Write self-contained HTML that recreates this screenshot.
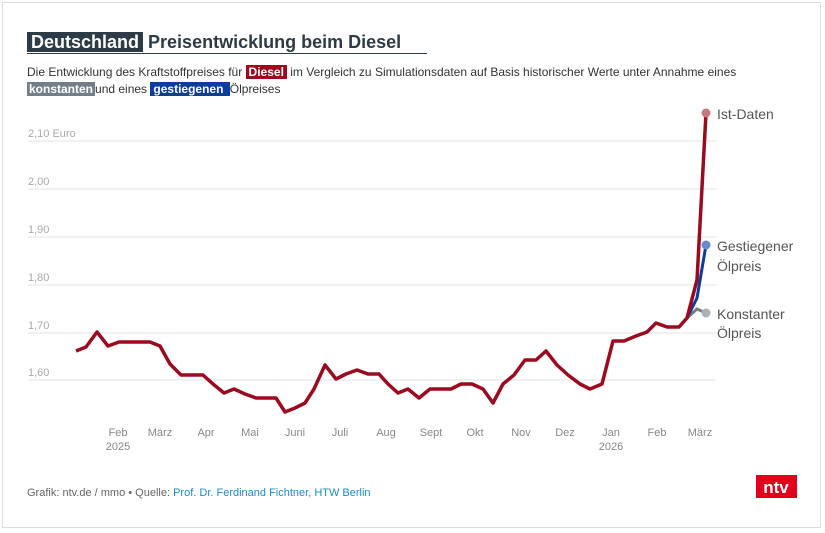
<!DOCTYPE html><html><head><style>
body{margin:0;background:#fff;font-family:"Liberation Sans",sans-serif}
.f{position:absolute;left:2px;top:2px;width:819px;height:526px;border:1px solid #ddd;box-sizing:border-box}
</style></head><body>
<div class="f"></div>
<div style="position:absolute;left:27px;top:30px;font-size:18px;font-weight:bold;color:#2d3b47;line-height:24px">
<span style="background:#2d3b47;color:#fff;padding:0 4px">Deutschland</span> Preisentwicklung beim Diesel</div>
<div style="position:absolute;left:27px;top:53px;width:400px;height:1px;background:#2d3b47"></div>
<div style="position:absolute;left:27px;top:64px;font-size:12px;color:#333;line-height:17px;width:780px">Die Entwicklung des Kraftstoffpreises für <b style="background:#9b0a1e;color:#fff;padding:0 3px">Diesel</b> im Vergleich zu Simulationsdaten auf Basis historischer Werte unter Annahme eines<br><b style="background:#737f88;color:#fff;padding:0 2px">konstanten</b>und eines <b style="background:#0b3c9e;color:#fff;padding:0 3px">gestiegenen </b> Ölpreises</div>
<svg width="825" height="533" style="position:absolute;left:0;top:0" font-family="Liberation Sans,sans-serif">
<g stroke="#e3e3e3" stroke-width="1">
<line x1="28" x2="716" y1="141" y2="141"/><line x1="28" x2="716" y1="189" y2="189"/><line x1="28" x2="716" y1="237" y2="237"/><line x1="28" x2="716" y1="285" y2="285"/><line x1="28" x2="716" y1="333" y2="333"/><line x1="28" x2="716" y1="380" y2="380"/></g>
<g fill="#aaa" font-size="11">
<text x="28" y="137">2,10 Euro</text><text x="28" y="185">2,00</text><text x="28" y="233">1,90</text><text x="28" y="281">1,80</text><text x="28" y="329">1,70</text><text x="28" y="376">1,60</text></g>
<g fill="#888" font-size="11" text-anchor="middle">
<text x="118" y="436">Feb</text><text x="118" y="450">2025</text><text x="160" y="436">März</text><text x="206" y="436">Apr</text><text x="250" y="436">Mai</text><text x="295" y="436">Juni</text><text x="340" y="436">Juli</text><text x="386" y="436">Aug</text><text x="431" y="436">Sept</text><text x="475" y="436">Okt</text><text x="521" y="436">Nov</text><text x="565" y="436">Dez</text><text x="611" y="436">Jan</text><text x="611" y="450">2026</text><text x="657" y="436">Feb</text><text x="700" y="436">März</text></g>
<polyline fill="none" stroke="#737f88" stroke-width="3" points="687,318 697,309 706,313"/>
<polyline fill="none" stroke="#0b3c9e" stroke-width="3" points="687,318 697,298 706,245"/>
<polyline fill="none" stroke="#9b0a1e" stroke-width="3.5" stroke-linejoin="round" points="76,351 86,347 97,332 108,346 119,342 130,342 141,342 150,342 160,346 170,364 181,375 192,375 203,375 213,384 224,393 234,389 245,394 256,398 266,398 276,398 285,412 295,408 305,403 314,389 325,365 336,379 346,374 357,370 368,374 379,374 388,384 398,393 408,389 419,398 430,389 440,389 451,389 461,384 472,384 483,389 493,403 503,384 514,375 525,360 536,360 546,351 557,365 568,375 580,384 590,389 602,384 613,341 624,341 636,336 647,332 656,323 667,327 679,327 687,318 697,280 706,113"/>
<circle cx="706" cy="113" r="4.5" fill="#c97882"/><circle cx="706" cy="245" r="4.5" fill="#6b8ad0"/><circle cx="706" cy="313" r="4.5" fill="#aab2b8"/>
<g fill="#555" font-size="14"><text x="717" y="119">Ist-Daten</text><text x="717" y="251">Gestiegener</text><text x="717" y="271">Ölpreis</text><text x="717" y="319">Konstanter</text><text x="717" y="338">Ölpreis</text></g>
<text x="27" y="496" font-size="11" fill="#666">Grafik: ntv.de / mmo • Quelle: <tspan fill="#1a8ccf">Prof. Dr. Ferdinand Fichtner, HTW Berlin</tspan></text>
<rect x="756" y="475" width="41" height="23" fill="#e3001b"/>
<text x="776" y="493" font-size="17" font-weight="bold" fill="#fff" text-anchor="middle">ntv</text>
</svg>
</body></html>
